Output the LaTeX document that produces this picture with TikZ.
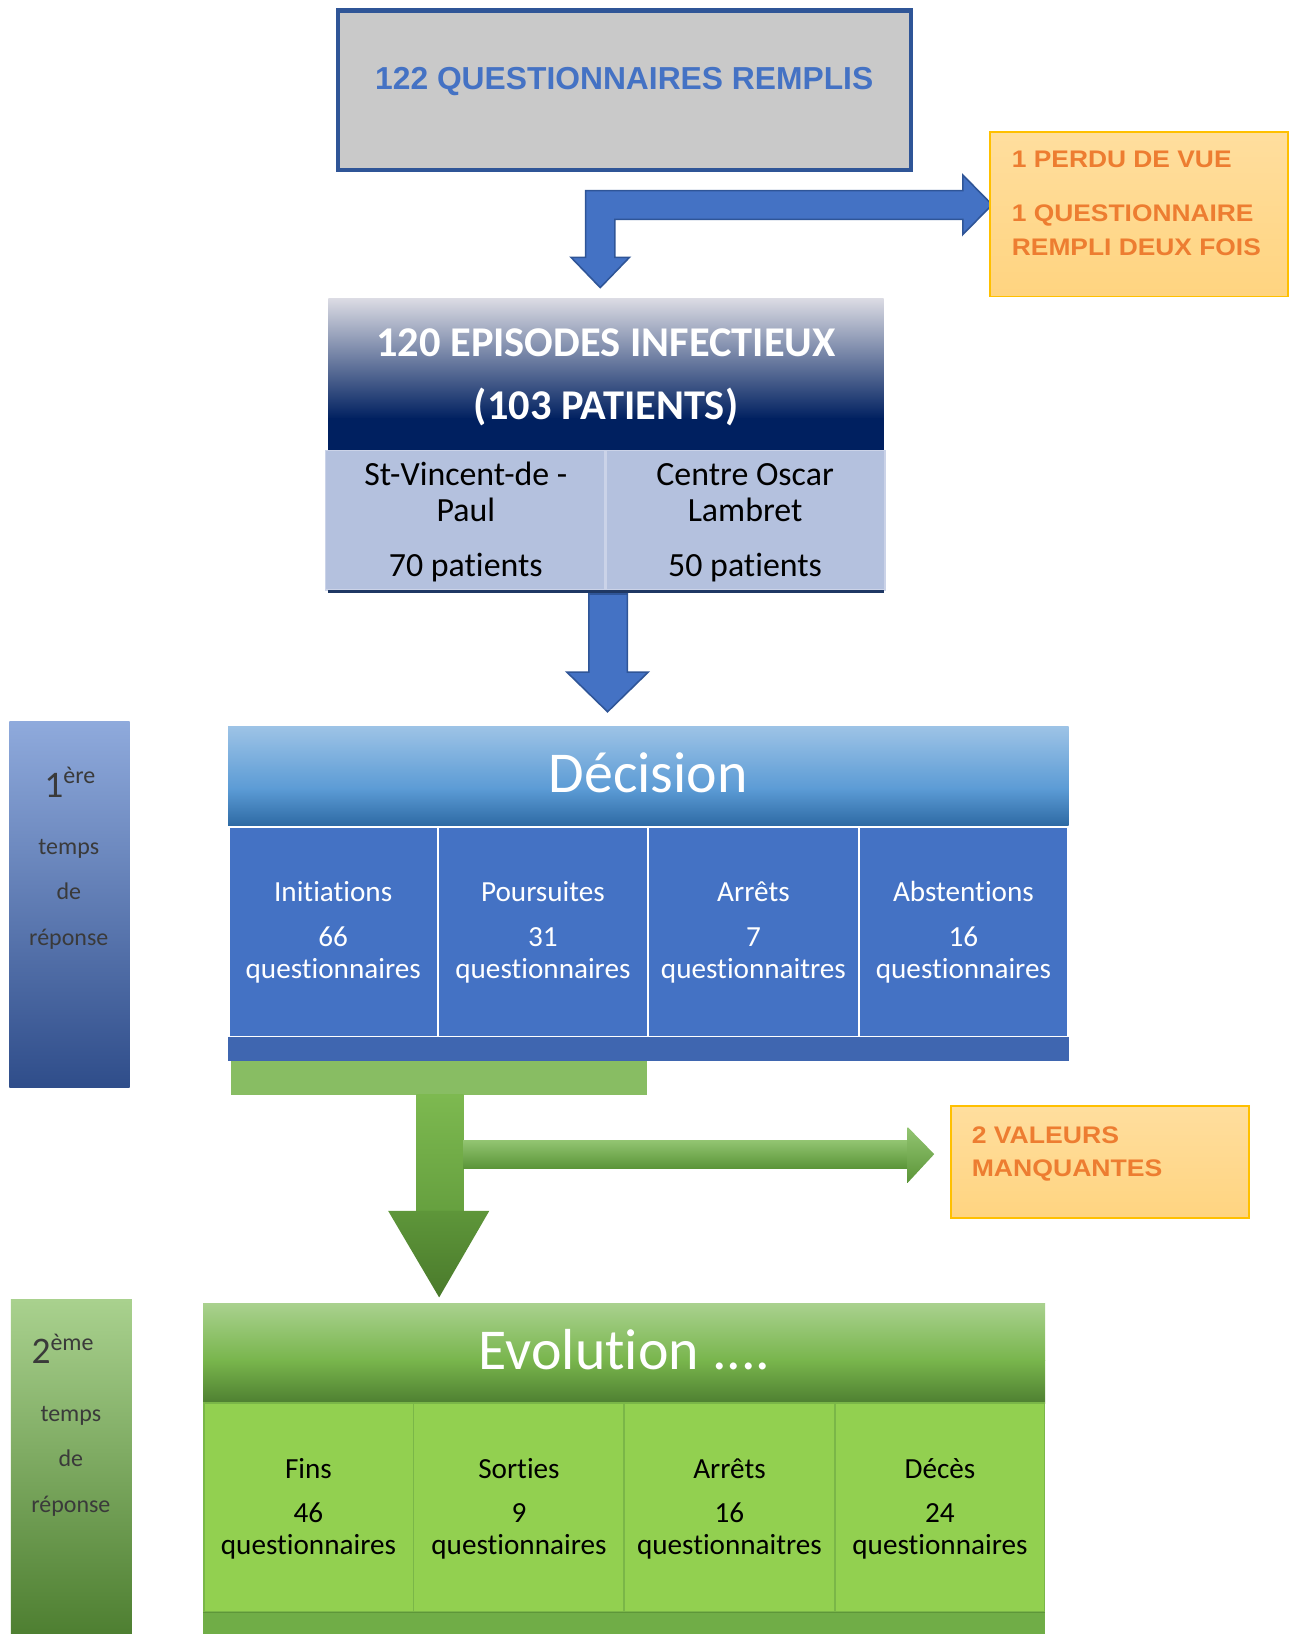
\documentclass[tikz,border=0pt]{standalone}
\usepackage{fontspec}
\usepackage{graphicx}
\setmainfont{Carlito}[Ligatures=NoCommon]
\newfontfamily\arialf{Liberation Sans}
\definecolor{qblue}{HTML}{4472C4}
\definecolor{qdark}{HTML}{2F5597}
\definecolor{qgray}{HTML}{C9C9C9}
\definecolor{qorange}{HTML}{ED7D31}
\definecolor{qortop}{HTML}{FFDE9E}
\definecolor{qorbot}{HTML}{FFD480}
\definecolor{qgold}{HTML}{FFC000}
\definecolor{qnavy}{HTML}{002060}
\definecolor{qepitop}{HTML}{DCDCE4}
\definecolor{qcell}{HTML}{B4C1DE}
\definecolor{qcellline}{HTML}{CBD3E8}
\definecolor{qnavyline}{HTML}{1F3864}
\definecolor{qstrip}{HTML}{3F66B0}
\definecolor{qdtop}{HTML}{9DC3E6}
\definecolor{qdmid}{HTML}{5B9BD5}
\definecolor{qdbot}{HTML}{2E6AA4}
\definecolor{qbartop}{HTML}{8FAADC}
\definecolor{qbarbot}{HTML}{2F4D8A}
\definecolor{qtext}{HTML}{3A3A3A}
\definecolor{qgreen}{HTML}{92D050}
\definecolor{qgreenline}{HTML}{7AB648}
\definecolor{qgreenbar}{HTML}{88BD63}
\definecolor{qgreenstrip}{HTML}{70AD47}
\definecolor{qgtop}{HTML}{A9D18E}
\definecolor{qgmid}{HTML}{78B54C}
\definecolor{qgbot}{HTML}{4E7F31}
\definecolor{qshafttop}{HTML}{7DB950}
\definecolor{qshaftbot}{HTML}{66A03F}
\definecolor{qheadtop}{HTML}{5E963A}
\definecolor{qheadbot}{HTML}{4A7A2B}
\definecolor{qbrtop}{HTML}{93C572}
\definecolor{qbrbot}{HTML}{5B9538}
\tikzset{
  qtitle/.style={anchor=base, font=\arialf\bfseries\fontsize{30.5}{36}\selectfont, text=qblue},
  ortxt/.style={anchor=base west, font=\arialf\bfseries\fontsize{23}{28}\selectfont, text=qorange},
  epititle/.style={anchor=base, font=\bfseries\fontsize{40.7}{46}\selectfont, text=white},
  sitetxt/.style={anchor=base, font=\fontsize{32.5}{38}\selectfont, text=black},
  bartxt/.style={anchor=base, font=\fontsize{23}{27}\selectfont, text=qtext},
  headtxt/.style={anchor=base, font=\fontsize{55.5}{60}\selectfont, text=white},
  celltxt/.style={anchor=base, font=\fontsize{28}{32}\selectfont},
  blockarrow/.style={fill=qblue, draw=qdark, line width=1.5pt, line join=miter},
}
\begin{document}
\begin{tikzpicture}[x=1pt,y=-1pt, every node/.style={inner sep=0pt, outer sep=0pt}]
\useasboundingbox (0,0) rectangle (1241,1568);

% ---------- top box
\draw[fill=qgray, draw=qdark, line width=4pt] (324,10) rectangle (874,163);
\node[qtitle] (q122) at (599,85.7) {122 QUESTIONNAIRES REMPLIS};

% ---------- bent arrow
\draw[blockarrow] (562,183) -- (924,183) -- (924,168) -- (952,196.5) -- (924,225) -- (924,210.5)
  -- (590,210.5) -- (590,247) -- (604,247) -- (576,276) -- (548,247) -- (562,247) -- cycle;

% ---------- orange box 1
\shade[top color=qortop, bottom color=qorbot] (950,126.5) rectangle (1236,284.5);
\draw[qgold, line width=1.5pt] (950,126.5) rectangle (1236,284.5);
\node[ortxt] (o1) at (971,161) {\scalebox{1.1}[1]{1 PERDU DE VUE}};
\node[ortxt] (o2) at (971,212.8) {\scalebox{1.1}[1]{1 QUESTIONNAIRE}};
\node[ortxt] (o3) at (971,244.7) {\scalebox{1.1}[1]{REMPLI DEUX FOIS}};

% ---------- episodes box
\shade[top color=qepitop, bottom color=qnavy] (315,286) rectangle (848,402);
\fill[qnavy] (315,401.5) rectangle (848,432);
\node[epititle] (ep1) at (581.5,342) {120 EPISODES INFECTIEUX};
\node[epititle] (ep2) at (581.5,403) {(103 PATIENTS)};
\draw[fill=qcell, draw=qcellline, line width=1.5pt] (312.5,432.5) rectangle (849.5,566);
\draw[qcellline, line width=2.5pt] (581,432.5) -- (581,566);
\fill[qnavyline] (315,566) rectangle (848,569);
\node[sitetxt] (s1) at (447,465.5) {St-Vincent-de -};
\node[sitetxt] (s2) at (447,500.7) {Paul};
\node[sitetxt] (s3) at (447,552.8) {70 patients};
\node[sitetxt] (c1) at (715,465.5) {Centre Oscar};
\node[sitetxt] (c2) at (715,500.7) {Lambret};
\node[sitetxt] (c3) at (715,552.8) {50 patients};

% ---------- blue down arrow
\draw[blockarrow] (565,570) -- (602,570) -- (602,645) -- (622,645) -- (583,683) -- (544,645) -- (565,645) -- cycle;

% ---------- left bar 1
\shade[top color=qbartop, middle color=qblue, bottom color=qbarbot] (9,692) rectangle (124.5,1044);
\node[bartxt] (b1a) at (67,765) {\fontsize{36}{36}\selectfont 1\raisebox{13pt}{\fontsize{23}{23}\selectfont ère}};
\node[bartxt] (b1b) at (66,820) {temps};
\node[bartxt] (b1c) at (66,863) {de};
\node[bartxt] (b1d) at (66,907) {réponse};

% ---------- decision
\shade[top color=qdtop, bottom color=qdmid] (219,697) rectangle (1025.5,757.5);
\shade[top color=qdmid, bottom color=qdbot] (219,757) rectangle (1025.5,792);
\node[headtxt] (dec) at (622,760.8) {Décision};
\draw[fill=qblue, draw=white, line width=2pt] (220,794) rectangle (1024.5,995);
\foreach \lx in {420.5,622,824} { \draw[white, line width=2pt] (\lx,794) -- (\lx,995); }
\fill[qstrip] (219,995) rectangle (1025.5,1018);
\foreach \cx/\a/\b/\c [count=\i] in {319.75/Initiations/66/questionnaires, 521/Poursuites/31/questionnaires, 723/Arrêts/7/questionnaitres, 924.5/Abstentions/16/questionnaires} {
  \node[celltxt, text=white] (da\i) at (\cx,865.4) {\a};
  \node[celltxt, text=white] (db\i) at (\cx,908.6) {\b};
  \node[celltxt, text=white] (dc\i) at (\cx,939) {\c};
}

% ---------- green arrows
\fill[qgreenbar] (222,1018) rectangle (621,1051);
\shade[top color=qshafttop, bottom color=qshaftbot] (399.5,1050.5) rectangle (445,1162.5);
\shade[top color=qbrtop, bottom color=qbrbot] (444.5,1094) rectangle (871.5,1121);
\shade[top color=qbrtop, bottom color=qbrbot] (871,1081.5) -- (896.5,1107.5) -- (871,1135) -- cycle;
\shade[top color=qheadtop, bottom color=qheadbot] (372.5,1162) -- (469.5,1162) -- (421.4,1245) -- cycle;

% ---------- orange box 2
\shade[top color=qortop, bottom color=qorbot] (912.5,1061.5) rectangle (1198.5,1169);
\draw[qgold, line width=1.5pt] (912.5,1061.5) rectangle (1198.5,1169);
\node[ortxt] (v1) at (932.5,1097.4) {\scalebox{1.11}[1]{2 VALEURS}};
\node[ortxt] (v2) at (932.5,1129.4) {\scalebox{1.11}[1]{MANQUANTES}};

% ---------- left bar 2
\shade[top color=qgtop, middle color=qgmid, bottom color=qgbot] (10.5,1247) rectangle (126.5,1568);
\node[bartxt] (b2a) at (60,1308.5) {\fontsize{36}{36}\selectfont 2\raisebox{13pt}{\fontsize{23}{23}\selectfont ème}};
\node[bartxt] (b2b) at (68,1364.5) {temps};
\node[bartxt] (b2c) at (68,1407) {de};
\node[bartxt] (b2d) at (68,1451) {réponse};

% ---------- evolution
\shade[top color=qgtop, bottom color=qgmid] (195,1251) rectangle (1003,1306);
\shade[top color=qgmid, bottom color=qgbot] (195,1305.5) rectangle (1003,1346.5);
\node[headtxt] (evo) at (599.5,1314.3) {Evolution ....};
\draw[fill=qgreen, draw=qgreenline, line width=1.5pt] (195.75,1346.5) rectangle (1002.25,1547);
\foreach \lx in {397,599,801.5} { \draw[qgreenline, line width=1.5pt] (\lx,1346.5) -- (\lx,1547); }
\fill[qgreenstrip] (195,1547) rectangle (1003,1568);
\draw[qheadtop, line width=1.5pt] (195,1547.5) -- (1003,1547.5);
\foreach \cx/\a/\b/\c [count=\i] in {296/Fins/46/questionnaires, 498/Sorties/9/questionnaires, 700/Arrêts/16/questionnaitres, 902/Décès/24/questionnaires} {
  \node[celltxt, text=black] (ea\i) at (\cx,1419) {\a};
  \node[celltxt, text=black] (eb\i) at (\cx,1461.4) {\b};
  \node[celltxt, text=black] (ec\i) at (\cx,1491.5) {\c};
}
\end{tikzpicture}
\end{document}
